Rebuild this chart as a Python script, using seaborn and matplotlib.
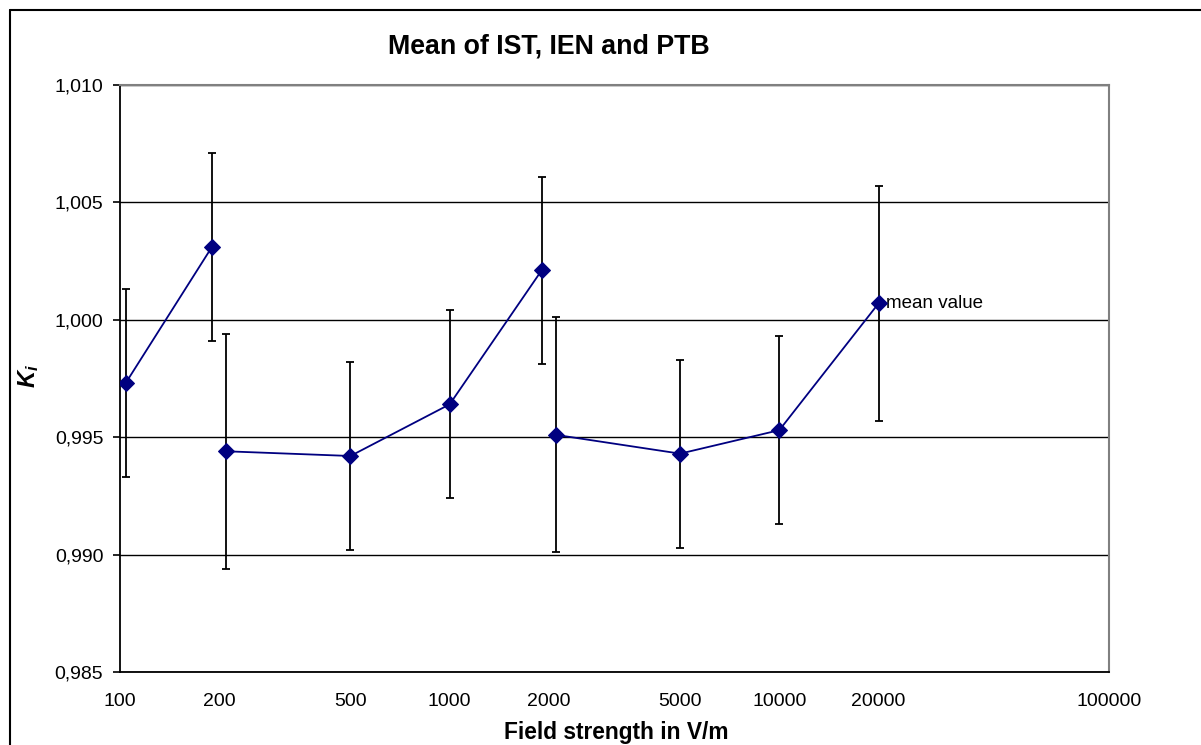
import numpy as np
import pandas as pd
import matplotlib
matplotlib.use("Agg")
import matplotlib.pyplot as plt
from matplotlib.ticker import FixedLocator, FixedFormatter, NullLocator
from matplotlib.lines import Line2D
import seaborn as sns

# ---- data ----
field = [104, 190, 210, 500, 1000, 1900, 2100, 5000, 10000, 20000]
k_mean = [0.9973, 1.0031, 0.9944, 0.9942, 0.9964, 1.0021, 0.9951, 0.9943, 0.9953, 1.0007]
k_err = [0.004, 0.004, 0.005, 0.004, 0.004, 0.004, 0.005, 0.004, 0.004, 0.005]
segment = [1, 1, 2, 2, 2, 2, 3, 3, 3, 3]
x_tick_values = [100, 200, 500, 1000, 2000, 5000, 10000, 20000, 100000]
x_tick_labels = ["100", "200", "500", "1000", "2000", "5000", "10000", "20000", "100000"]
x_decades = [100, 1000, 10000, 100000]
y_tick_values = [0.985, 0.990, 0.995, 1.000, 1.005, 1.010]
y_tick_labels = ["0,985", "0,990", "0,995", "1,000", "1,005", "1,010"]
title = "Mean of IST, IEN and PTB"
xlabel = "Field strength in V/m"
annotation = "mean value"

df = pd.DataFrame({"field": field, "k": k_mean, "err": k_err, "seg": segment})

sns.set_style("white")
plt.rcParams["font.family"] = ["Liberation Sans", "DejaVu Sans"]
plt.rcParams["mathtext.fontset"] = "custom"
plt.rcParams["mathtext.it"] = "Liberation Sans:bold:italic"
plt.rcParams["mathtext.rm"] = "Liberation Sans:bold"
for key in ["text.color", "axes.labelcolor", "xtick.color", "ytick.color"]:
    plt.rcParams[key] = "black"

W, H = 1201, 745
fig = plt.figure(figsize=(W / 100, H / 100), dpi=100)
fig.patch.set_facecolor("white")
ax = fig.add_axes([120 / W, 1 - 672 / H, (1109 - 120) / W, (672 - 85) / H])

navy = "#000080"

ax.errorbar(df["field"], df["k"], yerr=df["err"], fmt="none", ecolor="black",
            elinewidth=1.3, capsize=3.2, capthick=1.3, zorder=3)
sns.lineplot(data=df, x="field", y="k", units="seg", estimator=None, color=navy,
             linewidth=1.3, marker="D", markersize=8.5, markeredgecolor=navy,
             markerfacecolor=navy, ax=ax, zorder=4, legend=False)

ax.set_xscale("log")
ax.set_xlim(100, 100000)
ax.set_ylim(0.985, 1.010)

ax.xaxis.set_major_locator(FixedLocator(x_tick_values))
ax.xaxis.set_major_formatter(FixedFormatter(x_tick_labels))
ax.xaxis.set_minor_locator(FixedLocator(x_decades))
ax.tick_params(axis="x", which="major", length=0, pad=15, labelsize=14, colors="black")
ax.tick_params(axis="x", which="minor", length=5, width=1.2, direction="out", color="#404040")

ax.yaxis.set_major_locator(FixedLocator(y_tick_values))
ax.yaxis.set_major_formatter(FixedFormatter(y_tick_labels))
ax.yaxis.set_minor_locator(NullLocator())
ax.tick_params(axis="y", which="major", length=5, width=1.2, direction="out", pad=7,
               labelsize=14, left=True, colors="black")

ax.grid(axis="y", color="black", linewidth=1.0)
ax.grid(axis="x", visible=False)
ax.set_axisbelow(True)

for side in ["top", "right"]:
    ax.spines[side].set_visible(True)
    ax.spines[side].set_color("#808080")
    ax.spines[side].set_linewidth(1.5)
for side in ["left", "bottom"]:
    ax.spines[side].set_color("black")
    ax.spines[side].set_linewidth(1.3)

ax.set_xlabel("")
ax.set_ylabel(r"$K_{i}$", fontsize=17, labelpad=0, color="black")
ax.yaxis.set_label_coords(-0.080, 0.505)

ax.annotate(annotation, xy=(df["field"].iloc[-1], df["k"].iloc[-1]), xytext=(5, 0),
            textcoords="offset points", ha="left", va="center", fontsize=13.5,
            color="black")

fig.text(549 / W, 1 - 47 / H, title, ha="center", va="center", fontsize=19.3,
         fontweight="bold", color="black")
fig.text(616 / W, 1 - 732 / H, xlabel, ha="center", va="center", fontsize=16.4,
         fontweight="bold", color="black")

# chart border (Excel chart frame, cropped)
fig.add_artist(Line2D([10 / W, 10 / W], [0, 1 - 10 / H], color="black", linewidth=1.5,
                      transform=fig.transFigure))
fig.add_artist(Line2D([10 / W, 1], [1 - 10 / H, 1 - 10 / H], color="black", linewidth=1.5,
                      transform=fig.transFigure))

fig.savefig("out.png", dpi=100)
